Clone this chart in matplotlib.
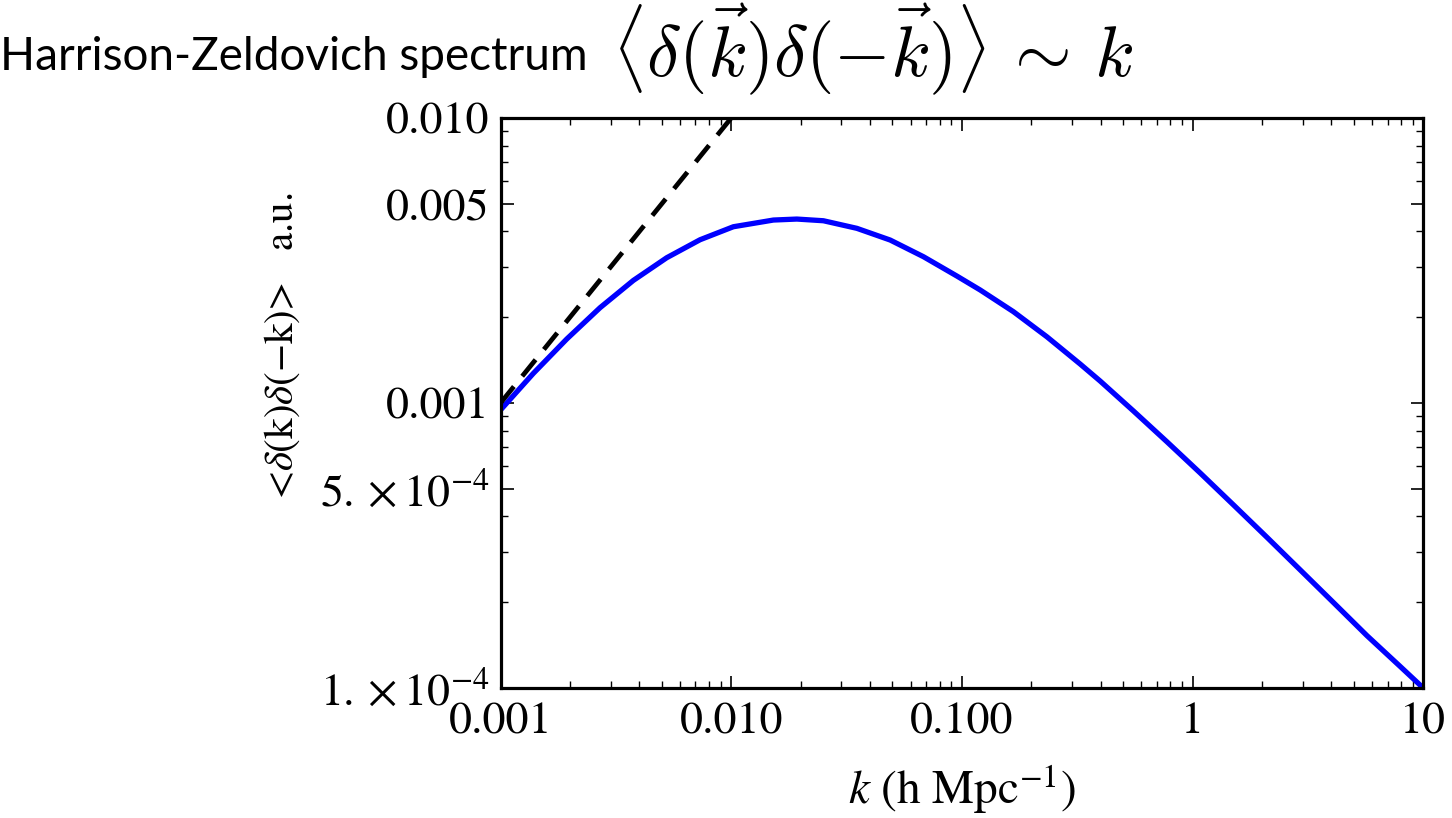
import numpy as np
import matplotlib
matplotlib.use("Agg")
import matplotlib.pyplot as plt
from matplotlib.ticker import FixedLocator, FixedFormatter, LogLocator, NullFormatter

# power spectrum, k in h/Mpc
k_vals = [0.001, 0.001388, 0.001937, 0.002701, 0.003766, 0.005256, 0.00733, 0.01022,
          0.01524, 0.01925, 0.02511, 0.03505, 0.04888, 0.06817, 0.09512, 0.1201,
          0.1674, 0.2336, 0.3258, 0.3978, 0.5548, 0.7745, 1.0799, 1.5062, 2.1015,
          2.9311, 4.088, 5.7052, 7.956, 10.0]
pk_vals = [0.000945, 0.001271, 0.001677, 0.00216, 0.002693, 0.003235, 0.003741, 0.004155,
           0.004386, 0.004421, 0.004361, 0.004102, 0.003732, 0.003261, 0.00279, 0.002492,
           0.002091, 0.001708, 0.00137, 0.001194, 0.000937, 0.000731, 0.000568, 0.0004386,
           0.0003379, 0.0002595, 0.0001992, 0.0001526, 0.0001189, 0.0001]

# P ~ k reference slope
hz_k = [0.001, 0.01]
hz_pk = [0.001, 0.01]

xticks = [0.001, 0.01, 0.1, 1, 10]
xtick_labels = ["0.001", "0.010", "0.100", "1", "10"]
yticks = [1e-4, 5e-4, 1e-3, 5e-3, 1e-2]
ytick_labels = [r"$1.\times10^{-4}$", r"$5.\times10^{-4}$", "0.001", "0.005", "0.010"]

plt.rcParams['mathtext.fontset'] = 'stix'
plt.rcParams['font.family'] = ['STIXGeneral', 'DejaVu Serif']

fig = plt.figure(figsize=(14.52, 8.18), dpi=100)
ax = fig.add_axes([0.3447, 0.1589, 0.6355, 0.6968])

ax.plot(k_vals, pk_vals, color='#0000ff', lw=3.8, solid_capstyle='butt',
        solid_joinstyle='round')
ax.plot(hz_k, hz_pk, color='black', lw=3.4, ls=(0, (4.5, 2.8)))

ax.set_xscale('log')
ax.set_yscale('log')
ax.set_xlim(0.001, 10)
ax.set_ylim(1e-4, 1e-2)

ax.xaxis.set_major_locator(FixedLocator(xticks))
ax.xaxis.set_major_formatter(FixedFormatter(xtick_labels))
ax.xaxis.set_minor_locator(LogLocator(base=10, subs=np.arange(2, 10)))
ax.xaxis.set_minor_formatter(NullFormatter())
ax.yaxis.set_major_locator(FixedLocator(yticks))
ax.yaxis.set_major_formatter(FixedFormatter(ytick_labels))
ax.yaxis.set_minor_locator(LogLocator(base=10, subs=[2, 3, 4, 6, 7, 8, 9]))
ax.yaxis.set_minor_formatter(NullFormatter())

for s in ax.spines.values():
    s.set_linewidth(2.3)
ax.tick_params(which='both', direction='in', top=True, right=True, labelsize=33)
ax.tick_params(which='major', length=9, width=1.2)
ax.tick_params(which='minor', length=5, width=1.0)
ax.tick_params(axis='y', which='major', pad=8)
ax.tick_params(axis='x', which='major', pad=10)

ax.set_xlabel(r"$k$ (h Mpc$^{-1}$)", fontsize=34, labelpad=14)
ax.set_ylabel(r"<$\delta$(k)$\delta$($-$k)>   a.u.", fontsize=29.5)
ax.yaxis.set_label_coords(-0.215, 0.6)

fig.text(0.0, 0.914, "Harrison-Zeldovich spectrum", fontsize=33, family='Lato',
         ha='left', va='baseline')
fig.text(0.4215, 0.907, r"$\langle\delta(\vec{k})\delta(-\vec{k})\rangle\,\sim\,k$",
         fontsize=52.5, math_fontfamily='cm', ha='left', va='baseline')

fig.savefig("out.png", dpi=100)
